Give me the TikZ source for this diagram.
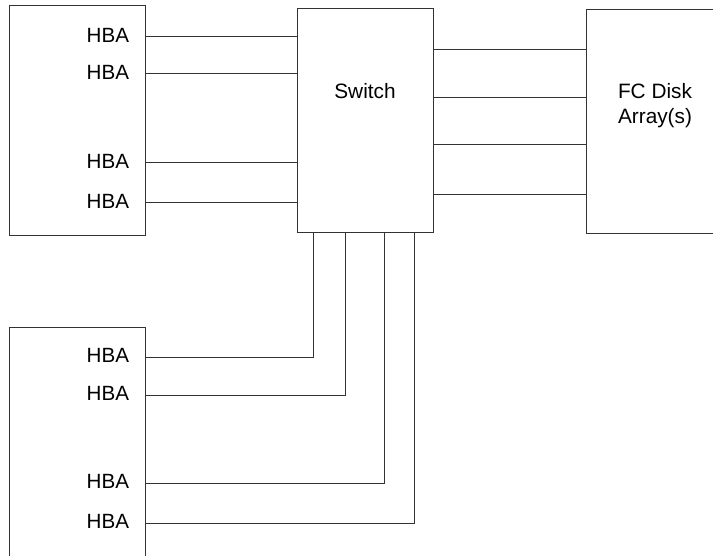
\documentclass[tikz,border=0pt]{standalone}
\usepackage{fontspec}
\setmainfont{Liberation Sans}
\usetikzlibrary{positioning}
\tikzset{
  unit/.style={draw=black!80, line width=0.5pt, inner sep=0pt},
  wire/.style={draw=black!80, line width=0.5pt},
  hba/.style={inner sep=0pt, anchor=east, font=\fontsize{10.3}{12}\selectfont},
  title/.style={inner sep=0pt, align=center, font=\fontsize{10.4}{12.4}\selectfont},
}
\begin{document}
\begin{tikzpicture}[x=0.5pt, y=-0.5pt]
    \clip (0,0) rectangle (713,556);
    % hosts, switch and disk array
    \node[unit, minimum width=68pt, minimum height=115pt] (host1) at (77,121) {};
    \node[unit, minimum width=68pt, minimum height=131.5pt] (host2) at (77,458.5) {};
    \node[unit, minimum width=68pt, minimum height=112pt] (switch) at (365,121) {};
    \node[unit, minimum width=77pt, minimum height=112pt] (array) at (663,122) {};
    \node[title] (swlabel) at (365,91) {Switch};
    \node[title] (arlabel) at (655,106) {FC Disk\\Array(s)};
    % HBA ports
    \coordinate (p1) at (145,37);
    \coordinate (p2) at (145,74);
    \coordinate (p3) at (145,163);
    \coordinate (p4) at (145,203);
    \coordinate (q1) at (145,357);
    \coordinate (q2) at (145,395);
    \coordinate (q3) at (145,483);
    \coordinate (q4) at (145,523);
    \foreach \p in {p1,p2,p3,p4,q1,q2,q3,q4}
        \node[hba, left=7.75pt of \p, yshift=1pt] (l\p) {HBA};
    % switch ports
    \coordinate (s1) at (313,233);
    \coordinate (s2) at (345,233);
    \coordinate (s3) at (384,233);
    \coordinate (s4) at (414,233);
    \coordinate (r1) at (433,50);
    \coordinate (r2) at (433,98);
    \coordinate (r3) at (433,145);
    \coordinate (r4) at (433,195);
    % links
    \foreach \p in {p1,p2,p3,p4}
        \draw[wire] (\p) -- (\p -| switch.west);
    \foreach \r in {r1,r2,r3,r4}
        \draw[wire] (\r) -- (\r -| array.west);
    \draw[wire] (q1) -| (s1);
    \draw[wire] (q2) -| (s2);
    \draw[wire] (q3) -| (s3);
    \draw[wire] (q4) -| (s4);
\end{tikzpicture}
\end{document}
